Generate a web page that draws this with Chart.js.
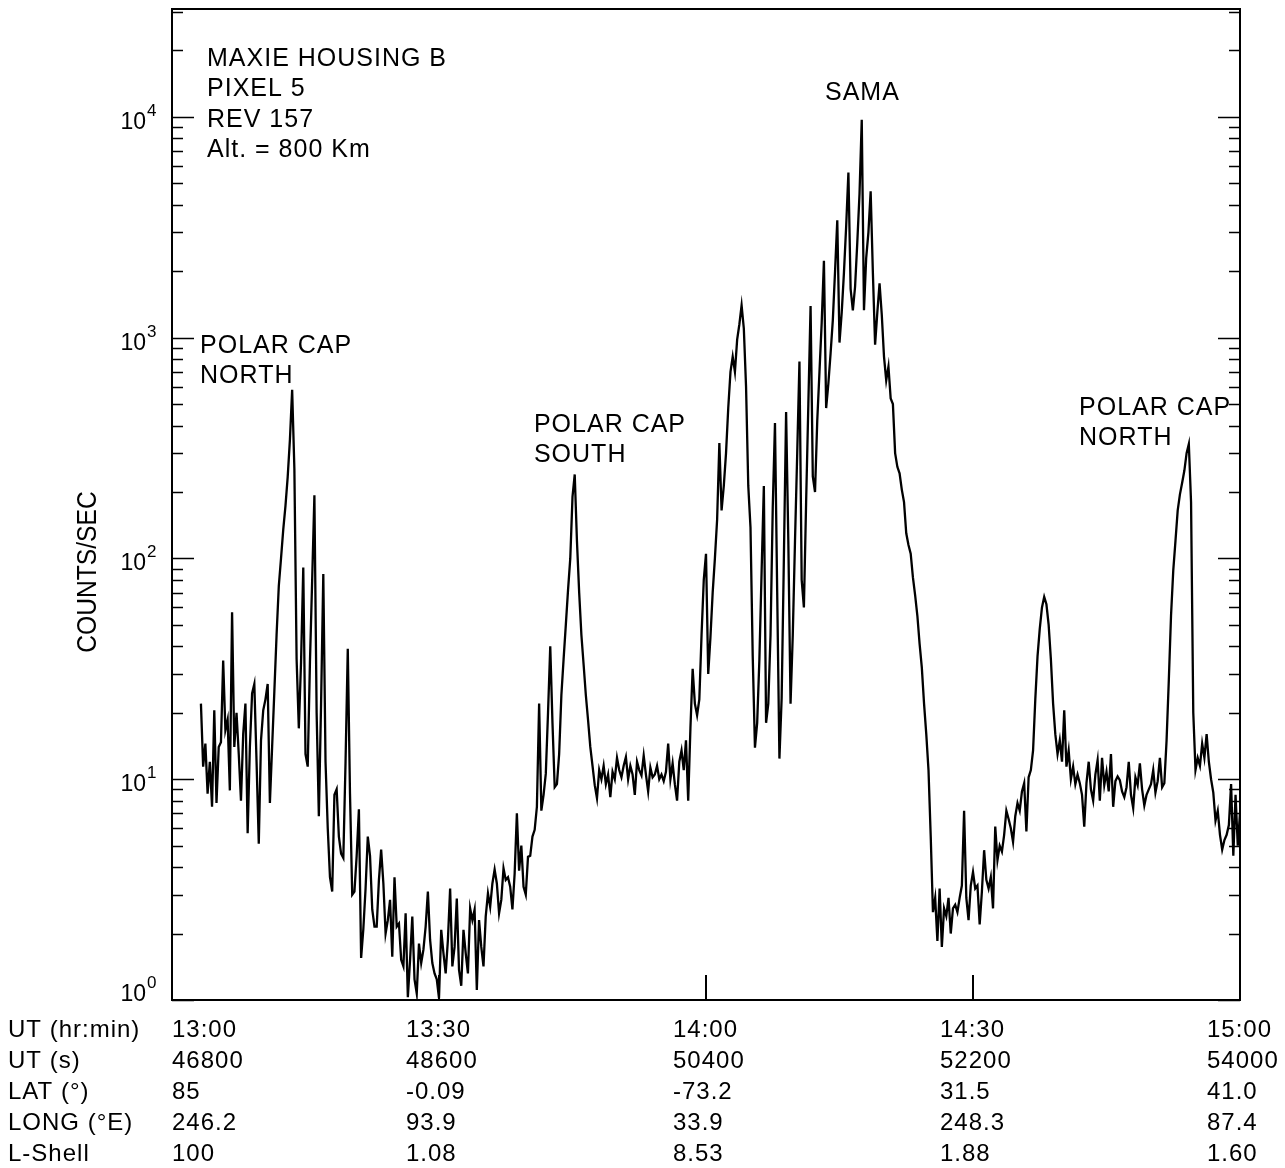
<!DOCTYPE html>
<html>
<head>
<meta charset="utf-8">
<script src="https://cdn.jsdelivr.net/npm/chart.js@4.4.1/dist/chart.umd.min.js"></script>
<style>
  html, body { margin: 0; padding: 0; background: #fff; }
  canvas { display: block; }
</style>
</head>
<body>
<canvas id="myChart" width="1285" height="1168"></canvas>
<script>
// counts/sec, one sample every 15 s starting at UT 46995 s
const firstSampleUT = 46995;
const sampleStepSec = 15;
const counts = [
  22, 11.4, 14.5, 8.6, 12, 7.5, 20.5, 7.8, 14, 14.7,
  34.5, 16.7, 18.6, 8.9, 57, 14, 20, 13, 8, 16,
  22, 5.7, 14, 24.5, 27, 12, 5.1, 15, 20.5, 23,
  27, 7.8, 14, 25, 45, 75, 100, 135, 173, 234,
  345, 580, 255, 35, 17, 34, 91, 13, 11.4, 34,
  80, 193, 20, 6.8, 22, 85, 12, 6, 3.6, 3.1,
  8.5, 9, 5.5, 4.6, 4.4, 12, 39, 8.6, 3.0, 3.1,
  4.5, 7.3, 1.55, 2.1, 3.2, 5.5, 4.5, 2.57, 2.15, 2.15,
  3.5, 4.8, 3.37, 2.0, 2.3, 2.84, 1.57, 3.6, 2.15, 2.22,
  1.52, 1.42, 2.47, 1.03, 1.52, 2.39, 1.24, 1.07, 1.8, 1.47,
  1.69, 2.15, 3.1, 1.87, 1.47, 1.32, 1.24, 1.02, 2.08, 1.63,
  1.32, 1.87, 3.2, 1.42, 1.74, 2.88, 1.37, 1.16, 2.08, 1.63,
  1.32, 2.6, 2.3, 2.57, 1.11, 2.3, 1.74, 1.42, 2.39, 3.04,
  2.64, 3.37, 3.9, 3.37, 2.47, 2.84, 3.95, 3.5, 3.6, 3.26,
  2.57, 3.74, 7.0, 3.85, 5.0, 3.26, 3.0, 4.45, 4.5, 5.5,
  5.9, 7.5, 22, 7.2, 8.5, 10.6, 20, 40, 18, 9.2,
  9.5, 13, 24, 35, 50, 72, 100, 190, 240, 120,
  70, 45, 33, 24, 18.5, 14, 11.5, 9.4, 8.2, 11,
  10, 11.5, 9.5, 10.5, 8.3, 10.8, 10, 12.5, 11, 10.2,
  11.5, 12.6, 10, 11.5, 10.5, 8.5, 12, 11, 10.4, 12.8,
  10.5, 8.8, 11.3, 10.2, 10.5, 11.5, 10, 10.5, 9.8, 10.8,
  14.5, 10, 11.8, 9.5, 8, 12, 13.5, 11, 15, 8,
  17, 31.6, 22, 19.5, 23, 45, 80, 105, 30, 44,
  70, 100, 150, 333, 165, 213, 300, 480, 700, 820,
  700, 980, 1150, 1400, 1100, 600, 213, 138, 36, 13.9,
  18, 35, 88, 213, 18, 22, 45, 170, 410, 70,
  12.4, 23.3, 100, 460, 120, 22, 45, 120, 300, 780,
  80, 60, 180, 500, 1390, 235, 200, 420, 700, 1170,
  2230, 480, 620, 850, 1200, 2000, 3400, 950, 1300, 1970,
  3200, 5600, 1660, 1330, 1700, 2700, 4500, 9700, 1330, 2300,
  3000, 4600, 1970, 930, 1300, 1760, 1270, 820, 640, 740,
  530, 500, 300, 260, 243, 205, 180, 130, 115, 105,
  82, 68, 55, 41, 32, 22, 16, 11, 5.5, 2.5,
  2.9, 1.85, 3.2, 1.74, 2.6, 2.4, 2.9, 2.0, 2.6, 2.7,
  2.5, 2.9, 3.3, 7.2, 2.9, 2.3, 3.3, 3.8, 3.2, 3.3,
  2.2, 3.1, 4.77, 3.5, 3.2, 3.6, 2.6, 6.1, 4.3, 5.0,
  4.7, 5.6, 7.2, 6.6, 6.0, 5.2, 6.8, 7.8, 7.2, 8.8,
  9.6, 5.8, 10.2, 11, 13.5, 23, 36, 48, 60, 67,
  62, 50, 35, 22, 16, 13, 15, 12, 20.5, 11.4,
  13.5, 10, 11.4, 9.5, 10.5, 9.6, 8.5, 6.1, 9.6, 12,
  9.0, 8.0, 10.5, 12.2, 8.0, 12.5, 9.4, 10.8, 8.8, 13,
  7.5, 9.8, 10.3, 9.9, 8.8, 8.3, 9.2, 12, 8.5, 7.4,
  10.2, 9.4, 11.8, 9.0, 7.6, 8.5, 9.0, 9.5, 11, 8.7,
  9.8, 12.5, 9.2, 9.6, 15, 28, 55, 88, 120, 165,
  195, 220, 250, 300, 330, 180, 20, 11, 12.5, 11.5,
  14.5, 12.5, 16, 12, 10, 8.7, 6.5, 7.2, 5.6, 4.8,
  5.3, 5.6, 6.2, 9.5, 4.5, 8.5, 5.0, 7.0
];

// bottom table, one column per tick
const tickUT = [46800, 48600, 50400, 52200, 54000];
const tickHrMin = ['13:00', '13:30', '14:00', '14:30', '15:00'];
const tickUTs = ['46800', '48600', '50400', '52200', '54000'];
const tickLat = ['85', '-0.09', '-73.2', '31.5', '41.0'];
const tickLong = ['246.2', '93.9', '33.9', '248.3', '87.4'];
const tickLShell = ['100', '1.08', '8.53', '1.88', '1.60'];
const rowTitles = ['UT (hr:min)', 'UT (s)', 'LAT (\u00b0)', 'LONG (\u00b0E)', 'L-Shell'];
const yDecades = [0, 1, 2, 3, 4];

const infoLines = ['MAXIE HOUSING B', 'PIXEL 5', 'REV 157', 'Alt. = 800 Km'];
const regionLabels = [
  { lines: ['POLAR CAP', 'NORTH'], ut: 46989, value: 855 },
  { lines: ['POLAR CAP', 'SOUTH'], ut: 49240, value: 372 },
  { lines: ['SAMA'], ut: 51202, value: 11940 },
  { lines: ['POLAR CAP', 'NORTH'], ut: 52915, value: 448 }
];

const points = counts.map((c, i) => ({ x: firstSampleUT + i * sampleStepSec, y: c }));

const FONT = '"Liberation Sans", Arial, Helvetica, sans-serif';

const paperAxes = {
  id: 'paperAxes',
  beforeDraw(chart) {
    const ctx = chart.ctx;
    ctx.save();
    ctx.fillStyle = '#fff';
    ctx.fillRect(0, 0, chart.width, chart.height);
    ctx.restore();
  },
  afterDraw(chart) {
    const { ctx, chartArea: a, scales: { x, y } } = chart;
    ctx.save();
    ctx.strokeStyle = '#000';
    ctx.fillStyle = '#000';

    // frame
    ctx.lineWidth = 2;
    ctx.strokeRect(a.left, a.top, a.right - a.left, a.bottom - a.top);

    // log ticks, inside on both sides
    ctx.lineWidth = 1.5;
    for (const k of yDecades) {
      for (let m = 1; m <= 9; m++) {
        const v = m * Math.pow(10, k);
        if (v > y.max) break;
        const py = Math.round(y.getPixelForValue(v)) + 0.5;
        const len = m === 1 ? 22 : 11;
        ctx.beginPath();
        ctx.moveTo(a.left, py); ctx.lineTo(a.left + len, py);
        ctx.moveTo(a.right, py); ctx.lineTo(a.right - len, py);
        ctx.stroke();
      }
    }

    // time ticks on the bottom
    ctx.lineWidth = 2;
    tickUT.slice(1, -1).forEach(t => {
      const px = Math.round(x.getPixelForValue(t));
      ctx.beginPath();
      ctx.moveTo(px, a.bottom); ctx.lineTo(px, a.bottom - 25);
      ctx.stroke();
    });

    // y tick labels 10^k
    yDecades.forEach(k => {
      const py = y.getPixelForValue(Math.pow(10, k));
      const base = Math.min(py + 12, a.bottom + 1);
      ctx.font = '23px ' + FONT;
      ctx.textAlign = 'right';
      ctx.textBaseline = 'alphabetic';
      ctx.fillText('10', a.left - 26, base);
      ctx.font = '17px ' + FONT;
      ctx.textAlign = 'left';
      ctx.fillText(String(k), a.left - 25, base - 13);
    });

    // y axis title
    ctx.save();
    ctx.translate(96, 572);
    ctx.rotate(-Math.PI / 2);
    ctx.scale(0.88, 1);
    ctx.font = '28px ' + FONT;
    ctx.textAlign = 'center';
    ctx.textBaseline = 'alphabetic';
    ctx.fillText('COUNTS/SEC', 0, 0);
    ctx.restore();

    // annotations
    ctx.font = '25px ' + FONT;
    ctx.letterSpacing = '1px';
    ctx.textAlign = 'left';
    ctx.textBaseline = 'alphabetic';
    const ix = x.getPixelForValue(47036);
    const iy = y.getPixelForValue(17010);
    infoLines.forEach((s, j) => ctx.fillText(s, ix, iy + j * 30.5));
    regionLabels.forEach(r => {
      const px = x.getPixelForValue(r.ut);
      const py = y.getPixelForValue(r.value);
      r.lines.forEach((s, j) => ctx.fillText(s, px, py + j * 30));
    });

    // table under the axis
    ctx.font = '24px ' + FONT;
    const rows = [tickHrMin, tickUTs, tickLat, tickLong, tickLShell];
    const rowBase = [1037, 1068, 1099, 1130, 1161];
    rowTitles.forEach((s, r) => ctx.fillText(s, 8, rowBase[r]));
    tickUT.forEach((t, c) => {
      const px = c === 0 ? a.left : x.getPixelForValue(t) - 33;
      rows.forEach((row, r) => ctx.fillText(row[c], px, rowBase[r]));
    });
    ctx.restore();
  }
};

new Chart(document.getElementById('myChart'), {
  type: 'line',
  data: {
    datasets: [{
      data: points,
      borderColor: '#000',
      borderWidth: 2.3,
      pointRadius: 0,
      tension: 0,
      fill: false
    }]
  },
  options: {
    responsive: false,
    animation: false,
    layout: { padding: { left: 172, top: 9, right: 45, bottom: 168 } },
    plugins: { legend: { display: false }, tooltip: { enabled: false } },
    scales: {
      x: { type: 'linear', min: 46800, max: 54000, display: false },
      y: { type: 'logarithmic', min: 1, max: 30800, display: false }
    }
  },
  plugins: [paperAxes]
});
</script>
</body>
</html>
